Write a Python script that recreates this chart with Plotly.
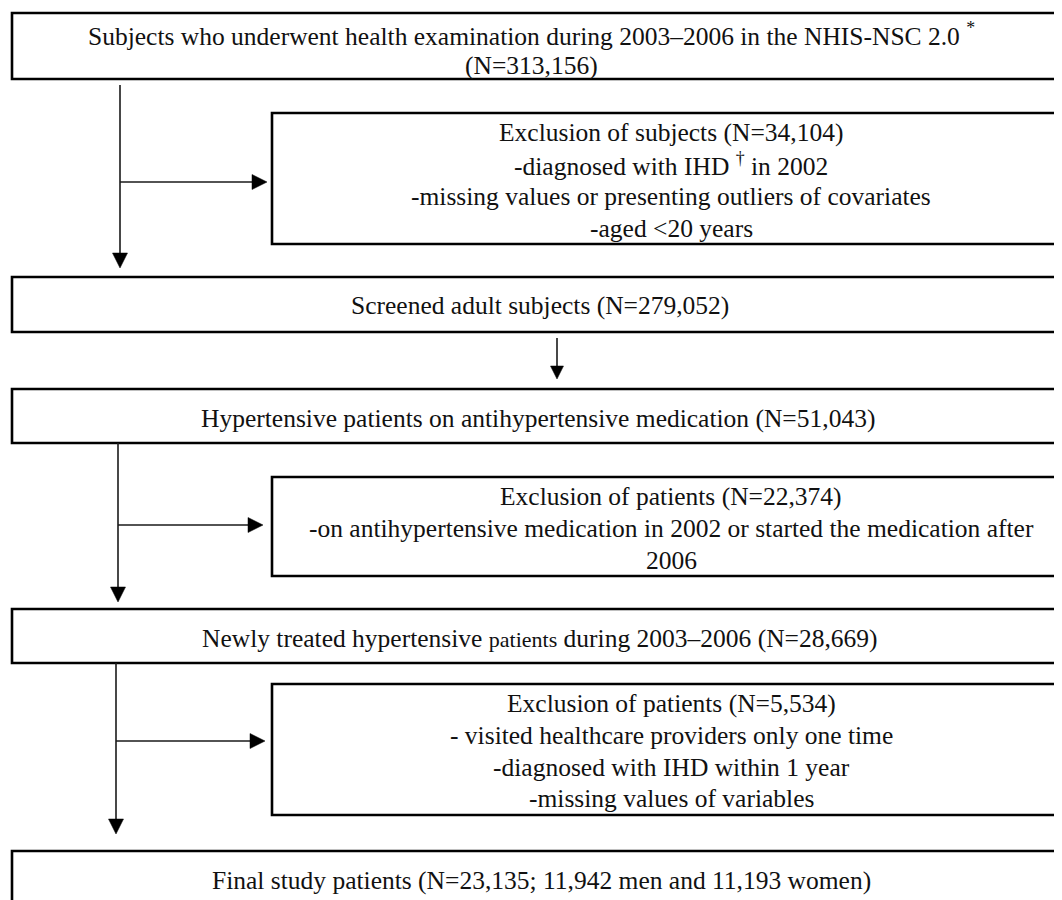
import plotly.graph_objects as go

# ---- flowchart content (data) ----
main_steps = [
    ["Subjects who underwent health examination during 2003–2006 in the NHIS-NSC 2.0 <sup>*</sup>",
     "(N=313,156)"],
    ["Screened adult subjects (N=279,052)"],
    ["Hypertensive patients on antihypertensive medication (N=51,043)"],
    ["Newly treated hypertensive <span style=\"font-size:22px\">patients</span> during 2003–2006 (N=28,669)"],
    ["Final study patients (N=23,135; 11,942 men and 11,193 women)"],
]
exclusions = [
    ["Exclusion of subjects (N=34,104)",
     "-diagnosed with IHD <sup>†</sup> in 2002",
     "-missing values or presenting outliers of covariates",
     "-aged <20 years"],
    ["Exclusion of patients (N=22,374)",
     "-on antihypertensive medication in 2002 or started the medication after",
     "2006"],
    ["Exclusion of patients (N=5,534)",
     "- visited healthcare providers only one time",
     "-diagnosed with IHD within 1 year",
     "-missing values of variables"],
]

# ---- layout geometry (screen pixels, y downward) ----
W, H = 1062, 900
PAGE_MARGIN = 8  # browser default body margin
main_boxes = [(12, 13, 1070, 79), (12, 277, 1070, 332), (12, 389, 1070, 443),
              (12, 609, 1070, 663), (12, 851, 1070, 915)]
main_text_x = [531, 540, 538, 540, 541]
main_text_y = [[34, 65], [305], [418], [638], [880]]
excl_boxes = [(272, 113, 1070, 244), (272, 477, 1070, 576), (272, 684, 1070, 815)]
excl_text_x = 671
excl_text_y = [[132, 164, 196, 228], [496, 528, 560], [703, 735, 767, 798]]
# vertical connectors: x, y_start, y_tip, branch y, branch tip x
trunks = [(120, 85, 268, 182, 267), (118, 443, 602, 525, 263), (116, 663, 834, 741, 265)]
mid_arrow = (557, 338, 379)

FONT = "Liberation Serif"
FS = 25.5
LINE = "#1a1a1a"

fig = go.Figure()
shapes = []
annotations = []

def rect(b):
    shapes.append(dict(type="rect", xref="x", yref="y", x0=b[0], y0=b[1], x1=b[2], y1=b[3],
                       line=dict(color="black", width=2.6), fillcolor="rgba(0,0,0,0)", layer="above"))

def line(x0, y0, x1, y1):
    shapes.append(dict(type="line", xref="x", yref="y", x0=x0, y0=y0, x1=x1, y1=y1,
                       line=dict(color=LINE, width=1.6)))

def head_down(x, tip, size=15):
    shapes.append(dict(type="path", xref="x", yref="y",
                       path=f"M {x-size/2},{tip-size} L {x+size/2},{tip-size} L {x},{tip} Z",
                       fillcolor="black", line=dict(color="black", width=0.5)))

def head_right(tip, y, size=15):
    shapes.append(dict(type="path", xref="x", yref="y",
                       path=f"M {tip-size},{y-size/2} L {tip-size},{y+size/2} L {tip},{y} Z",
                       fillcolor="black", line=dict(color="black", width=0.5)))

for b in main_boxes:
    rect(b)
for b in excl_boxes:
    rect(b)

for (x, y0, tip, by, btip) in trunks:
    line(x, y0, x, tip - 12)
    head_down(x, tip)
    line(x, by, btip - 12, by)
    head_right(btip, by)

mx, my0, mtip = mid_arrow
line(mx, my0, mx, mtip - 10)
head_down(mx, mtip, size=13)

def add_text(txt, x, y):
    annotations.append(dict(text=txt, x=x, y=y, xref="x", yref="y", showarrow=False,
                            xanchor="center", yanchor="middle",
                            font=dict(family=FONT, size=FS, color="#111111")))

for lines, x, ys in zip(main_steps, main_text_x, main_text_y):
    for t, y in zip(lines, ys):
        add_text(t, x, y)
for lines, ys in zip(exclusions, excl_text_y):
    for t, y in zip(lines, ys):
        add_text(t, excl_text_x, y)

fig.update_layout(
    width=W - PAGE_MARGIN, height=H - PAGE_MARGIN,
    margin=dict(l=0, r=0, t=0, b=0),
    paper_bgcolor="white", plot_bgcolor="white",
    xaxis=dict(range=[PAGE_MARGIN, W], visible=False, fixedrange=True),
    yaxis=dict(range=[H, PAGE_MARGIN], visible=False, fixedrange=True),
    shapes=shapes, annotations=annotations, showlegend=False,
)
fig.write_html("out.html", config={"displayModeBar": False})
